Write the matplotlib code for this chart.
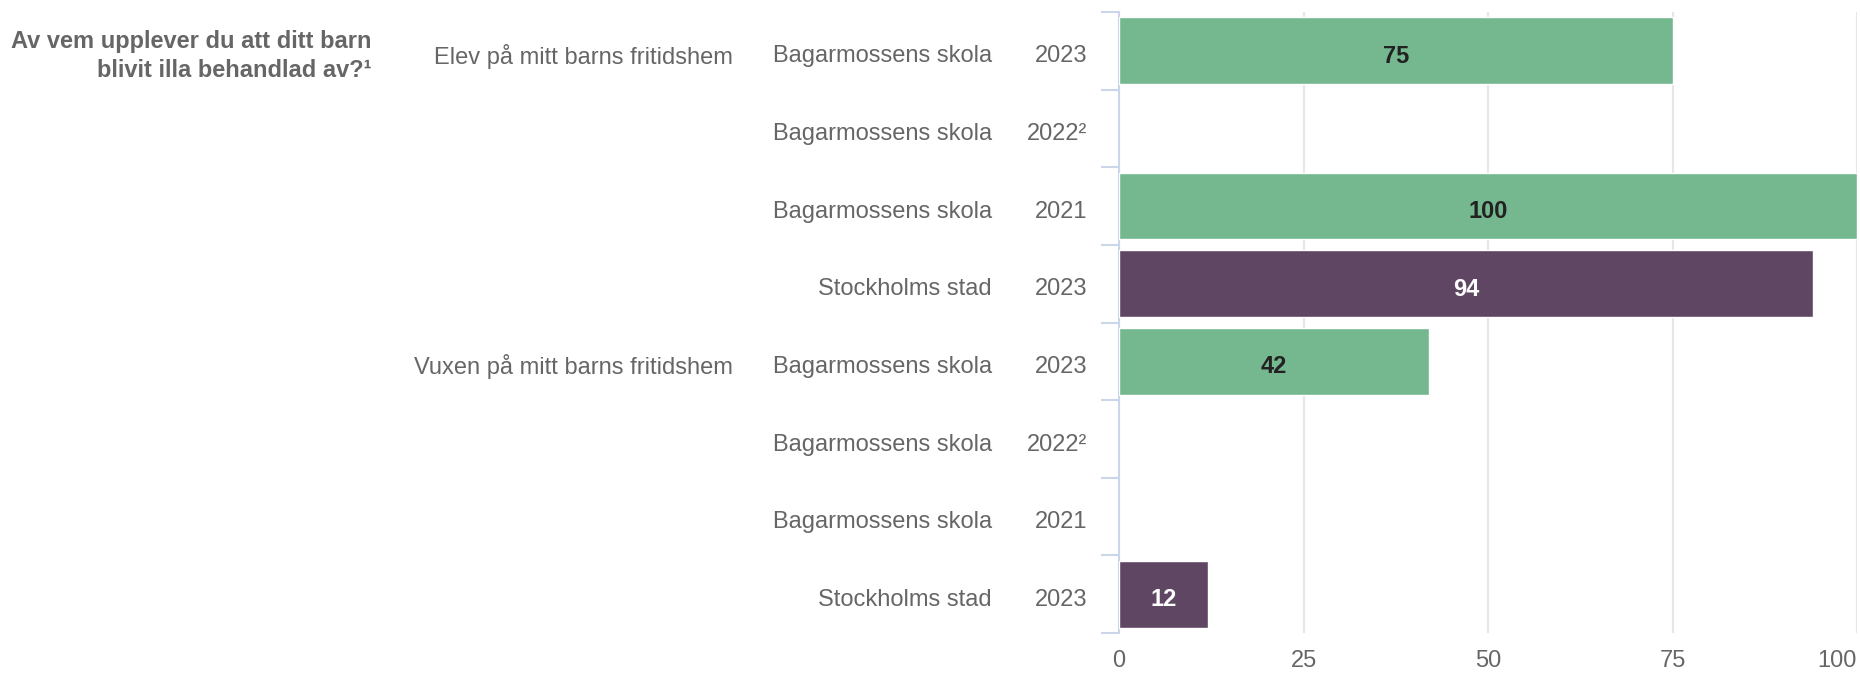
import matplotlib.pyplot as plt
import matplotlib.transforms as mtransforms

plt.rcParams['font.family'] = ['Liberation Sans', 'DejaVu Sans']

question = "Av vem upplever du att ditt barn\nblivit illa behandlad av?¹"
groups = ["Elev på mitt barns fritidshem", "Vuxen på mitt barns fritidshem"]
units = ["Bagarmossens skola", "Bagarmossens skola", "Bagarmossens skola", "Stockholms stad"] * 2
years = ["2023", "2022²", "2021", "2023"] * 2
values = [75, None, 100, 94, 42, None, None, 12]
is_city = [False, False, False, True] * 2

GREEN = "#75b88f"
PURPLE = "#5f4663"
GREY = "#666666"
AXIS = "#ccd6eb"

fig = plt.figure(figsize=(18.6, 6.76), dpi=100)
ax = fig.add_axes([1119 / 1860, 1 - 633 / 676, (1857 - 1119) / 1860, 621 / 676])

n = len(values)
rows = list(range(n))
dy = 0.04  # small downward nudge of text, like the reference
for i, v in enumerate(values):
    if v is None:
        continue
    col = PURPLE if is_city[i] else GREEN
    ax.barh(i, v, height=0.86, color=col, edgecolor="white", linewidth=1, zorder=3)
    ax.text(v / 2, i + dy, str(v), ha="center", va="center_baseline", fontsize=17,
            fontweight="bold", color="white" if is_city[i] else "#222222", zorder=4)

ax.set_xlim(0, 100)
ax.set_ylim(n - 0.5, -0.5)
ax.set_xticks([0, 25, 50, 75, 100])
ax.grid(axis="x", color="#e6e6e6", linewidth=1.5, zorder=0)
ax.set_axisbelow(True)
ax.tick_params(axis="x", length=0, pad=12, labelsize=17, labelcolor=GREY)
ax.get_xticklabels()[-1].set_horizontalalignment("right")

ax.set_yticks([])
ax.set_yticks([r + 0.5 for r in range(-1, n)], minor=True)
ax.tick_params(axis="y", which="minor", length=13, width=1.5, color=AXIS)

for s in ["top", "right", "bottom"]:
    ax.spines[s].set_visible(False)
ax.spines["left"].set_color(AXIS)
ax.spines["left"].set_linewidth(1.5)

trans = mtransforms.blended_transform_factory(fig.transFigure, ax.transData)
for i, (u, yr) in enumerate(zip(units, years)):
    ax.text(992 / 1860, i + dy, u, transform=trans, ha="right", va="center_baseline",
            fontsize=17, color=GREY)
    ax.text(1087 / 1860, i + dy, yr, transform=trans, ha="right", va="center_baseline",
            fontsize=17, color=GREY)
for g, r in zip(groups, [0, 4]):
    ax.text(733 / 1860, r + dy, g, transform=trans, ha="right", va="center_baseline",
            fontsize=17, color=GREY)

fig.text(371 / 1860, 1 - 30 / 676, question, ha="right", va="top", fontsize=17,
         fontweight="bold", color=GREY, linespacing=1.35)

fig.savefig("out.png", dpi=100)
